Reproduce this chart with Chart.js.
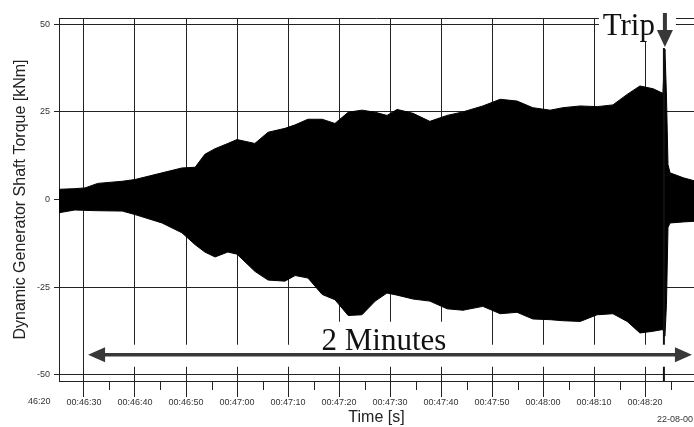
<!DOCTYPE html>
<html>
<head>
<meta charset="utf-8">
<script src="https://cdn.jsdelivr.net/npm/chart.js@4.4.1/dist/chart.umd.min.js"></script>
<style>
  html, body { margin: 0; padding: 0; background: #fff; }
  #wrap { width: 694px; height: 427px; position: relative; }
</style>
</head>
<body>
<div id="wrap"><canvas id="torque"></canvas></div>
<script>
// time of day in seconds (00:46:30 = 2790 s), envelope of the shaft torque in kNm
const timeSec = [2785.0, 2788.2, 2790.2, 2792.7, 2797.5, 2800.0, 2805.3, 2809.2, 2811.8, 2813.7,
                 2815.7, 2818.2, 2820.0, 2823.5, 2826.1, 2829.4, 2831.4, 2833.9, 2836.7, 2839.2,
                 2841.8, 2844.5, 2847.1, 2849.4, 2851.4, 2854.5, 2857.8, 2861.2, 2864.3, 2868.2,
                 2871.6, 2874.9, 2878.0, 2881.4, 2883.9, 2887.3, 2890.6, 2893.7, 2896.5, 2899.0,
                 2901.6, 2903.5, 2903.9, 2904.2, 2904.5, 2904.9, 2907.5, 2910.0];
const upperKNm = [2.9, 3.1, 3.3, 4.6, 5.2, 5.7, 7.6, 9.0, 9.2, 12.9,
                  14.5, 16.0, 17.1, 16.0, 19.2, 20.3, 21.3, 22.9, 22.9, 21.7,
                  24.9, 25.5, 24.9, 24.0, 25.7, 24.6, 22.3, 24.0, 25.0, 26.7,
                  28.6, 28.1, 26.2, 25.5, 26.2, 26.7, 26.5, 27.0, 30.0, 32.4,
                  31.6, 30.3, 42.9, 29.5, 10.0, 7.6, 6.2, 5.2];
const lowerKNm = [-3.8, -3.0, -3.1, -3.2, -3.3, -4.3, -6.7, -9.5, -12.9, -15.0,
                  -16.4, -15.0, -15.6, -20.5, -23.0, -23.3, -21.7, -22.4, -27.1, -28.6,
                  -33.1, -32.9, -29.0, -26.7, -27.3, -28.4, -29.0, -31.2, -31.6, -30.5,
                  -32.6, -32.2, -34.1, -34.3, -34.6, -34.8, -32.9, -32.6, -34.8, -38.1,
                  -37.6, -37.1, -39.0, -30.0, -8.0, -6.7, -6.4, -6.2];

const xMin = 2785.1, xMax = 2909.6;
const yMin = -51.8, yMax = 51.8;
const tripTime = 2903.7;
const spanFrom = 2790.8, spanTo = 2909.2, spanLevel = -44.3;
const spanLabel = '2 Minutes';
const tripLabel = 'Trip';
const dateLabel = '22-08-00';

const INK = '#222';
const ARROW = '#383838';
const SERIF = "'Liberation Serif', 'Times New Roman', serif";

Chart.defaults.font.family = "'Liberation Sans', Arial, sans-serif";

const pad2 = n => String(n).padStart(2, '0');
const clock = v => '00:' + pad2(Math.floor(v / 60) % 60) + ':' + pad2(Math.round(v % 60));
const isMajor = v => Math.round(v) % 10 === 0;

// arrows, labels, minor ticks and the trip marker
const overlay = {
    id: 'overlay',
    afterDraw(chart) {
        const { ctx, chartArea: area, scales: { x, y } } = chart;
        ctx.save();

        // top border
        ctx.strokeStyle = INK;
        ctx.lineWidth = 1;
        ctx.beginPath();
        ctx.moveTo(area.left, area.top + 0.5);
        ctx.lineTo(area.right, area.top + 0.5);
        ctx.stroke();

        // minor ticks
        x.ticks.forEach(t => {
            if (isMajor(t.value)) return;
            const px = Math.round(x.getPixelForValue(t.value)) + 0.5;
            ctx.beginPath();
            ctx.moveTo(px, area.bottom);
            ctx.lineTo(px, area.bottom + 9);
            ctx.stroke();
        });

        // tick label cut at the left edge
        ctx.save();
        ctx.beginPath();
        ctx.rect(27, area.bottom, 40, 40);
        ctx.clip();
        ctx.font = "9px 'Liberation Sans', Arial, sans-serif";
        ctx.fillStyle = '#333';
        ctx.textAlign = 'center';
        ctx.textBaseline = 'top';
        ctx.fillText(clock(2780), x.getPixelForValue(2780), area.bottom + 16);
        ctx.restore();

        // date stamp
        ctx.font = "9px 'Liberation Sans', Arial, sans-serif";
        ctx.fillStyle = '#333';
        ctx.textAlign = 'left';
        ctx.textBaseline = 'middle';
        ctx.fillText(dateLabel, 657, area.bottom + 39);

        // trip marker line
        const tx = x.getPixelForValue(tripTime);
        ctx.strokeStyle = '#111';
        ctx.lineWidth = 2;
        ctx.beginPath();
        ctx.moveTo(tx, area.top + 30);
        ctx.lineTo(tx, area.bottom);
        ctx.stroke();

        // span arrow with white band behind it
        const ax0 = x.getPixelForValue(spanFrom);
        const ax1 = x.getPixelForValue(spanTo);
        const ay = y.getPixelForValue(spanLevel);
        ctx.fillStyle = '#fff';
        ctx.fillRect(ax0 - 2, ay - 10, area.right - ax0 + 2, 22);

        ctx.font = '31px ' + SERIF;
        const tw = ctx.measureText(spanLabel).width;
        const cx = x.getPixelForValue(2848.8);
        ctx.fillRect(cx - tw / 2 - 3, ay - 33, tw + 6, 26);

        ctx.strokeStyle = ARROW;
        ctx.fillStyle = ARROW;
        ctx.lineWidth = 3.5;
        ctx.beginPath();
        ctx.moveTo(ax0 + 10, ay);
        ctx.lineTo(ax1 - 10, ay);
        ctx.stroke();
        ctx.beginPath();
        ctx.moveTo(ax0, ay);
        ctx.lineTo(ax0 + 17, ay - 7.5);
        ctx.lineTo(ax0 + 17, ay + 7.5);
        ctx.closePath();
        ctx.fill();
        ctx.beginPath();
        ctx.moveTo(ax1, ay);
        ctx.lineTo(ax1 - 17, ay - 7.5);
        ctx.lineTo(ax1 - 17, ay + 7.5);
        ctx.closePath();
        ctx.fill();

        ctx.fillStyle = '#111';
        ctx.textAlign = 'center';
        ctx.textBaseline = 'alphabetic';
        ctx.fillText(spanLabel, cx, ay - 5);

        // trip label and down arrow
        ctx.fillStyle = '#fff';
        ctx.fillRect(tx - 65, 0, 77, area.top + 24);
        ctx.fillStyle = '#111';
        ctx.textAlign = 'right';
        ctx.fillText(tripLabel, tx - 9, area.top + 17);
        ctx.fillStyle = ARROW;
        ctx.fillRect(tx - 1, area.top - 5, 4, 18);
        ctx.beginPath();
        ctx.moveTo(tx - 7, area.top + 12);
        ctx.lineTo(tx + 9, area.top + 12);
        ctx.lineTo(tx + 1, area.top + 29);
        ctx.closePath();
        ctx.fill();

        ctx.restore();
    }
};

const upperPts = timeSec.map((t, i) => ({ x: t, y: upperKNm[i] }));
const lowerPts = timeSec.map((t, i) => ({ x: t, y: lowerKNm[i] }));

new Chart(document.getElementById('torque'), {
    type: 'line',
    data: {
        datasets: [{
            data: upperPts,
            borderColor: '#000',
            backgroundColor: '#000',
            borderWidth: 1,
            pointRadius: 0,
            tension: 0,
            fill: '+1'
        }, {
            data: lowerPts,
            borderColor: '#000',
            backgroundColor: '#000',
            borderWidth: 1,
            pointRadius: 0,
            tension: 0,
            fill: false
        }]
    },
    options: {
        responsive: true,
        maintainAspectRatio: false,
        animation: false,
        layout: { padding: { top: 18, right: 0, bottom: 0, left: 0 } },
        plugins: { legend: { display: false }, tooltip: { enabled: false } },
        scales: {
            x: {
                type: 'linear',
                min: xMin,
                max: xMax,
                afterFit: s => { s.height = 46; },
                border: { color: INK, width: 1 },
                grid: {
                    color: c => isMajor(c.tick.value) ? INK : 'rgba(0,0,0,0)',
                    tickColor: c => isMajor(c.tick.value) ? INK : 'rgba(0,0,0,0)',
                    tickLength: 16,
                    lineWidth: 1
                },
                ticks: {
                    stepSize: 5,
                    includeBounds: false,
                    autoSkip: false,
                    maxRotation: 0,
                    padding: 0,
                    color: '#333',
                    font: { size: 9 },
                    callback: v => isMajor(v) ? clock(v) : ''
                },
                title: {
                    display: true,
                    text: 'Time [s]',
                    color: INK,
                    font: { size: 16 },
                    padding: { top: 0, bottom: 0 }
                }
            },
            y: {
                min: yMin,
                max: yMax,
                afterFit: s => { s.width = 59; },
                border: { color: INK, width: 1 },
                grid: { color: INK, tickColor: INK, tickLength: 5, lineWidth: 1 },
                ticks: {
                    stepSize: 25,
                    includeBounds: false,
                    padding: 4,
                    color: '#333',
                    font: { size: 9 }
                },
                title: {
                    display: true,
                    text: 'Dynamic Generator Shaft Torque [kNm]',
                    color: INK,
                    font: { size: 16 },
                    padding: { top: 11, bottom: 0 }
                }
            }
        }
    },
    plugins: [overlay]
});
</script>
</body>
</html>
